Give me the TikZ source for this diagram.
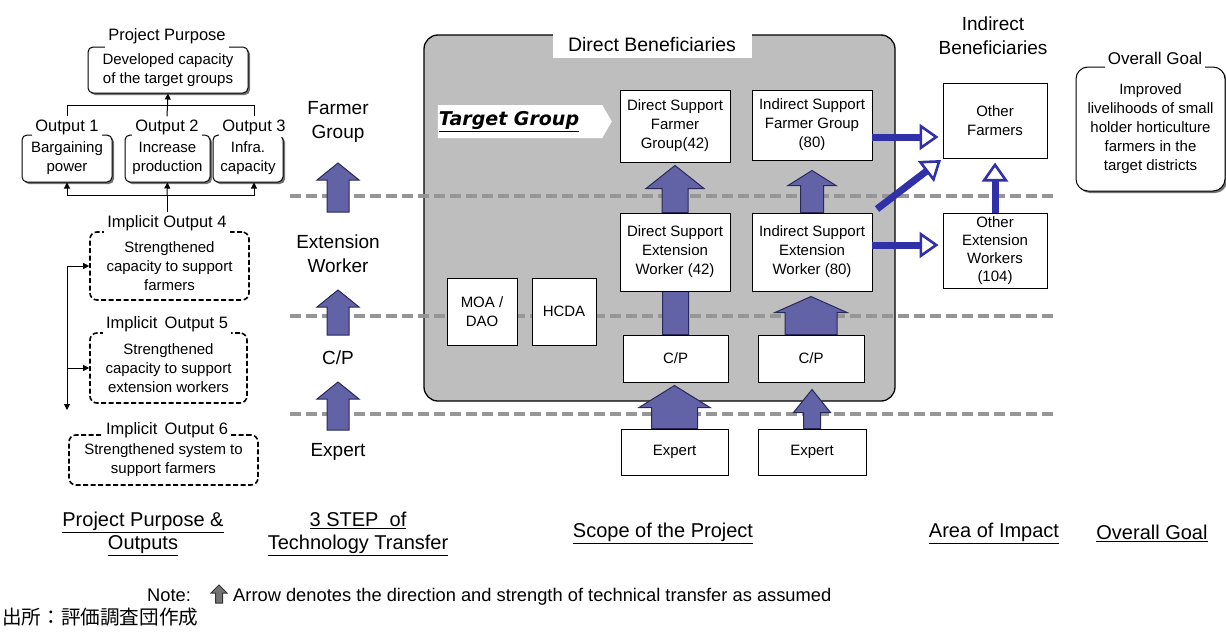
\documentclass[tikz,border=0pt]{standalone}
\usepackage{fontspec}
\setmainfont{Liberation Sans}
\newfontfamily\jpfont{Noto Sans CJK JP}
\newfontfamily\tgfont{DejaVu Sans}
\usetikzlibrary{calc,shapes.arrows,shapes.symbols,arrows.meta,shadows}
\pgfdeclarelayer{bg}\pgfdeclarelayer{mid}\pgfsetlayers{bg,mid,main}

\definecolor{fatfill}{RGB}{98,98,166}
\definecolor{fatline}{RGB}{40,40,90}
\definecolor{flow}{RGB}{48,48,168}
\definecolor{panel}{RGB}{190,190,190}
\definecolor{rule}{RGB}{150,150,150}

\newcommand\fs[2]{\fontsize{#1}{#2}\selectfont}
% broad upward arrow: start, tip, half shaft width, half head width, head length
\newcommand\fatarrow[6][]{%
  \draw[fat,#1] let \p1=#2, \p2=#3 in
    (\x1-#4,\y1) -- (\x1-#4,\y2-#6) -- (\x1-#5,\y2-#6) -- (\x1,\y2)
    -- (\x1+#5,\y2-#6) -- (\x1+#4,\y2-#6) -- (\x1+#4,\y1) -- cycle;}

\begin{document}
\begin{tikzpicture}[x=1pt,y=-1pt,
  every node/.style={inner sep=2pt},
  txt/.style={font=\fs{15}{19}, align=center},
  sbox/.style={draw, line width=1pt, rounded corners=5pt, fill=white,
    drop shadow={shadow xshift=2pt, shadow yshift=-2pt, fill=black, opacity=.55}, txt},
  ibox/.style={draw, line width=1.6pt, dash pattern=on 5pt off 2.5pt,
    rounded corners=7pt, fill=white, txt},
  wbox/.style={draw, line width=1pt, fill=white, txt},
  tag/.style={fill=white, font=\fs{16.5}{19}, inner xsep=3pt, inner ysep=3pt},
  stepl/.style={font=\fs{19}{24}, align=center},
  foot/.style={font=\fs{20}{23}, align=center},
  fat/.style={draw=fatline, line width=1pt, fill=fatfill, line join=miter},
  conn/.style={line width=1pt, -{Triangle[length=6pt,width=6pt]}},
  flowarrow/.style={draw=flow, line width=7pt,
    -{Triangle[length=19pt,width=26pt,fill=white,line width=2.6pt]}, shorten >=4pt},
  level/.style={draw=rule, line width=4.5pt, dash pattern=on 11pt off 5pt},
]
\useasboundingbox (0,0) rectangle (1226,632);

% ---------- project purpose and outputs ----------
\node[sbox, minimum width=160, minimum height=46] (dev) at (168,70) {Developed capacity\\of the target groups};
\node[tag, inner ysep=4.5pt] (devt) at (167,36) {Project Purpose};

\node[sbox, minimum width=90, minimum height=47] (o1) at (67,158.5) {Bargaining\\power};
\node[sbox, minimum width=85, minimum height=47] (o2) at (167.5,158.5) {Increase\\production};
\node[sbox, minimum width=70, minimum height=47] (o3) at (248,158.5) {Infra.\\capacity};
\node[tag] (o1t) at (67,127) {Output 1};
\node[tag] (o2t) at (167,127) {Output 2};
\node[tag] (o3t) at (254,127) {Output 3};

\coordinate (jt) at (167,105);
\draw[line width=1pt] (o1t.north) |- (o3t.north |- jt) -- (o3t.north);
\draw[conn] (o2t.north) -- (dev.south);

\node[ibox, minimum width=159, minimum height=68] (i4) at (169.5,266) {Strengthened\\capacity to support\\farmers};
\node[tag] (i4t) at (167,223) {Implicit Output 4};
\node[ibox, minimum width=157, minimum height=70] (i5) at (168.5,368) {Strengthened\\capacity to support\\extension workers};
\node[tag] (i5t) at (167,324) {Implicit\, Output 5};
\node[ibox, minimum width=189, minimum height=50] (i6) at (163.5,460) {Strengthened system to\\support farmers};
\node[tag] (i6t) at (167,430) {Implicit\, Output 6};

\coordinate (jb) at (167,195);
\draw[line width=1pt] (i4t.north) -- (jb);
\draw[conn] (jb) -| (o1.south);
\draw[conn] (jb) -- (o2.south);
\draw[conn] (jb) -| (o3t.north |- o3.south);

\coordinate (lt) at (67,266);
\coordinate (lb) at (67,410);
\draw[conn] (lt) -- (i4.west);
\draw[conn] (lt) -- (lb);
\draw[conn] (lt |- i5.west) -- (i5.west);

% ---------- three steps of technology transfer ----------
\node[stepl] (fg) at (338,122) {Farmer\\Group};
\node[stepl] (ew) at (338,254) {Extension\\Worker};
\node[stepl] (cp0) at (338,358) {C/P};
\node[stepl] (ex0) at (338,452) {Expert};
\coordinate (a1s) at (338,212); \coordinate (a1e) at (338,163);
\coordinate (a2s) at (338,335); \coordinate (a2e) at (338,290);
\coordinate (a3s) at (338,430); \coordinate (a3e) at (338,382);

% ---------- scope of the project ----------
\begin{pgfonlayer}{bg}
  \node[draw, line width=1.3pt, fill=panel, rounded corners=14pt,
        minimum width=471, minimum height=366] (dir) at (659.5,218) {};
  \draw[level] (290,196) -- (1058,196);
  \draw[level] (290,316) -- (1058,316);
  \draw[level] (290,414) -- (1058,414);
\end{pgfonlayer}

\begin{pgfonlayer}{mid}
  \node[fill=white, minimum width=199, minimum height=26, font=\fs{19.5}{23}] (dirt) at (652,45) {Direct Beneficiaries};
  \node[signal, signal to=east, signal pointer angle=120, fill=white,
        minimum width=174, minimum height=33] (tg) at (520,121.5) {};
  \node[font=\tgfont\bfseries\itshape\fs{19}{22}] (tgt) at (509,121.5) {\underline{Target Group}};
\end{pgfonlayer}

\node[wbox, minimum width=110, minimum height=72] (dfg) at (675,126) {Direct Support\\Farmer\\Group(42)};
\node[wbox, minimum width=120, minimum height=70] (ifg) at (812,125) {Indirect Support\\Farmer Group\\(80)};
\node[wbox, minimum width=110, minimum height=78] (dew) at (675,252) {Direct Support\\Extension\\Worker (42)};
\node[wbox, minimum width=120, minimum height=78] (iew) at (812,252) {Indirect Support\\Extension\\Worker (80)};
\node[wbox, minimum width=105, minimum height=47] (cpl) at (675.5,358.5) {C/P};
\node[wbox, minimum width=106, minimum height=47] (cpr) at (811,358.5) {C/P};
\node[wbox, minimum width=107, minimum height=46] (exl) at (674.5,452) {Expert};
\node[wbox, minimum width=108, minimum height=46] (exr) at (812,452) {Expert};
\node[wbox, minimum width=70, minimum height=67] (moa) at (482,311.5) {MOA /\\DAO};
\node[wbox, minimum width=64, minimum height=67] (hcda) at (564,311.5) {HCDA};

\begin{pgfonlayer}{mid}
  \fatarrow{(a1s)}{(a1e)}{11pt}{21pt}{17pt}
  \fatarrow{(a2s)}{(a2e)}{11pt}{21pt}{17pt}
  \fatarrow{(a3s)}{(a3e)}{11pt}{21pt}{17pt}
  \fatarrow{(dew.north)}{($(dfg.south)+(0,3)$)}{13pt}{29pt}{23pt}
  \fatarrow{(iew.north)}{($(ifg.south)+(0,10)$)}{11.5pt}{24pt}{15pt}
  \fatarrow{(cpl.north)}{(dew.center)}{13pt}{29pt}{20pt}
  \fatarrow{(cpr.north)}{($(iew.south)+(0,5)$)}{26pt}{36pt}{16pt}
  \fatarrow{(exl.north)}{($(cpl.south)+(0,3)$)}{23pt}{35.5pt}{22pt}
  \fatarrow{(exr.north)}{($(cpr.south)+(0,7)$)}{8.5pt}{18.5pt}{23pt}
\end{pgfonlayer}

% ---------- indirect beneficiaries ----------
\node[stepl] (ib) at (993,36) {Indirect\\Beneficiaries};
\node[wbox, minimum width=104, minimum height=75] (of) at (995,120.5) {Other\\Farmers};
\node[wbox, minimum width=104, minimum height=75, font=\fs{15}{18}] (oe) at (995,250.5) {Other\\Extension\\Workers\\(104)};

\coordinate (f1) at (872,137);
\draw[flowarrow] (f1) -- (f1 -| of.west);
\coordinate (f2a) at (877,209);
\coordinate (f2b) at (941,160);
\draw[flowarrow, shorten >=0pt] (f2a) -- (f2b);
\coordinate (f3) at (872,245);
\draw[flowarrow] (f3) -- (f3 -| oe.west);
\draw[flowarrow] (oe.north) -- (of.south);

% ---------- overall goal ----------
\node[sbox, rounded corners=12pt, minimum width=149, minimum height=124] (og) at (1150.5,129)
  {Improved\\livelihoods of small\\holder horticulture\\farmers in the\\target districts};
\node[tag, font=\fs{17}{20}, inner ysep=4pt] (ogt) at (1155,58) {Overall Goal};

% ---------- column captions ----------
\node[foot] (l1) at (143,534) {\underline{Project Purpose \&}\\\underline{Outputs}};
\node[foot] (l2) at (358,534) {\underline{3 STEP\ \ of}\\\underline{Technology Transfer}};
\node[foot] (l3) at (663,533) {\underline{Scope of the Project}};
\node[foot] (l4) at (994,533) {\underline{Area of Impact}};
\node[foot] (l5) at (1152,533) {\underline{Overall Goal}};

% ---------- note and source ----------
\node[anchor=base west, font=\fs{18.3}{22}, inner sep=0pt] (note) at (147,601) {Note:};
\coordinate (n1) at (219,603);
\coordinate (n2) at (219,585);
\fatarrow[draw=black!80, fill=black!55]{(n1)}{(n2)}{3.5pt}{8pt}{8pt}
\node[anchor=base west, font=\fs{18.3}{22}, inner sep=0pt] (notet) at (233,601)
  {Arrow denotes the direction and strength of technical transfer as assumed};
\node[anchor=west, font=\jpfont\fs{19.6}{22}, inner sep=0pt] (src) at (2,617) {出所：評価調査団作成};
\end{tikzpicture}
\end{document}
